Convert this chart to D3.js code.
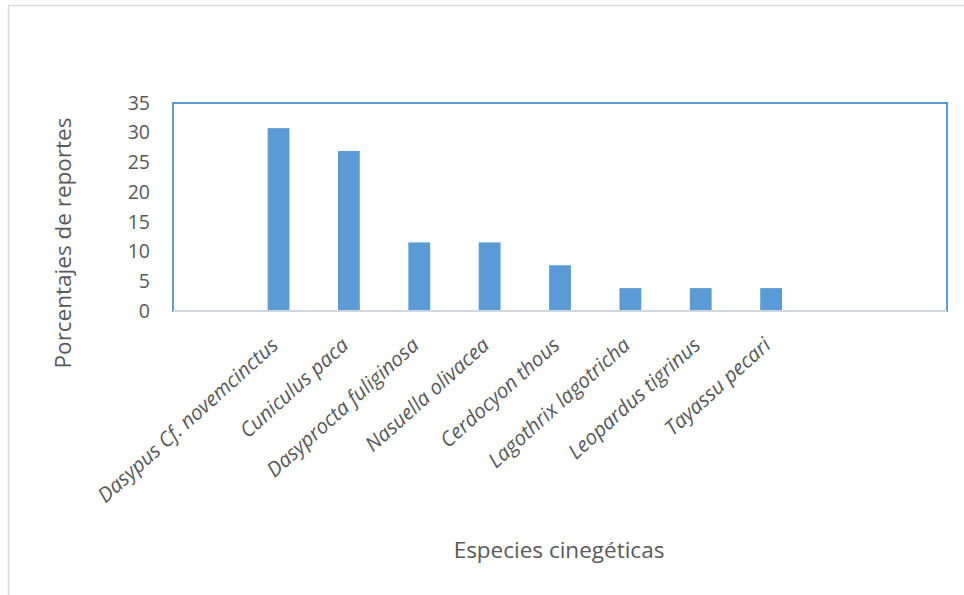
<!DOCTYPE html>
<html>
<head>
<meta charset="utf-8">
<script src="https://cdn.jsdelivr.net/npm/d3@7"></script>
<style>
  html, body { margin: 0; padding: 0; background: #fff; }
  svg { display: block; }
  text { font-family: "Open Sans", "Noto Sans", sans-serif; fill: #595959; }
</style>
</head>
<body>
<svg id="chart" width="964" height="595"></svg>
<script>
// Hunted species and share of reports (%); empty slots keep the category spacing
const categories = ["", "Dasypus Cf. novemcinctus", "Cuniculus paca", "Dasyprocta fuliginosa",
  "Nasuella olivacea", "Cerdocyon thous", "Lagothrix lagotricha", "Leopardus tigrinus",
  "Tayassu pecari", " ", "  "];
const values = [null, 30.77, 26.92, 11.54, 11.54, 7.69, 3.85, 3.85, 3.85, null, null];
const yTicks = [0, 5, 10, 15, 20, 25, 30, 35];
const yTitle = "Porcentajes de reportes";
const xTitle = "Especies cinegéticas";

const svg = d3.select("#chart");
const m = { left: 173, right: 947, top: 103, bottom: 311 };
const blue = "#5B9BD5";

// outer chart frame
svg.append("rect")
  .attr("x", 8.5).attr("y", 5.5).attr("width", 1000).attr("height", 700)
  .attr("fill", "none").attr("stroke", "#d9d9d9").attr("stroke-width", 1.5);

const x = d3.scaleBand().domain(categories).range([m.left, m.right]).paddingInner(0.69).paddingOuter(0.345);
const y = d3.scaleLinear().domain([0, 35]).range([m.bottom, m.top]);

// plot area border
svg.append("rect")
  .attr("x", m.left).attr("y", m.top)
  .attr("width", m.right - m.left).attr("height", m.bottom - m.top)
  .attr("fill", "none").attr("stroke", blue).attr("stroke-width", 2);

// bars
svg.append("g").selectAll("rect")
  .data(categories.map((c, i) => ({ c, v: values[i] })).filter(d => d.v != null))
  .join("rect")
  .attr("x", d => x(d.c))
  .attr("width", x.bandwidth())
  .attr("y", d => y(d.v))
  .attr("height", d => y(0) - y(d.v))
  .attr("fill", blue);

// y axis (labels only)
const yAxis = svg.append("g")
  .attr("transform", `translate(${m.left},0)`)
  .call(d3.axisLeft(y).tickValues(yTicks).tickSize(0).tickPadding(23));
yAxis.select(".domain").remove();
yAxis.selectAll("text")
  .style("font-size", "19.5px").attr("fill", "#595959")
  .style("font-family", "'Open Sans', sans-serif");

// x axis line and rotated category labels
const xAxis = svg.append("g")
  .attr("transform", `translate(0,${m.bottom})`)
  .call(d3.axisBottom(x).tickSize(0).tickFormat(d => d.trim()));
xAxis.select(".domain")
  .attr("stroke", "#cfd6de").attr("stroke-width", 2)
  .attr("d", `M${m.left},0H${m.right}`);
xAxis.selectAll(".tick text")
  .attr("fill", "#595959")
  .style("font-size", "20.5px").style("font-style", "italic")
  .style("font-family", "'Open Sans', sans-serif")
  .attr("text-anchor", "end")
  .attr("dy", 0).attr("y", 0)
  .attr("transform", "translate(1,36) rotate(-42)");

// axis titles
svg.append("text")
  .attr("transform", `translate(71,243) rotate(-90)`)
  .attr("text-anchor", "middle")
  .style("font-size", "22.5px")
  .text(yTitle);
svg.append("text")
  .attr("x", 559).attr("y", 558)
  .attr("text-anchor", "middle")
  .style("font-size", "22.5px")
  .text(xTitle);
</script>
</body>
</html>
